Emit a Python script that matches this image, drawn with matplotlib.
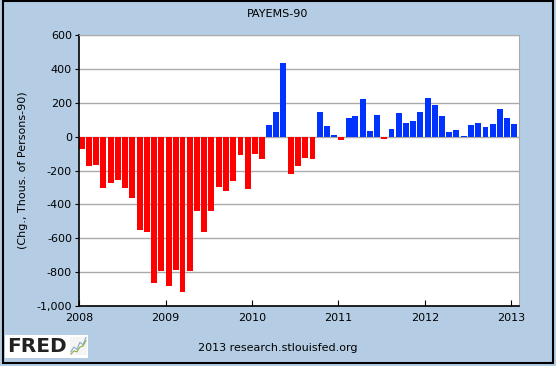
import matplotlib

matplotlib.use("Agg")
import matplotlib.pyplot as plt
import matplotlib.dates as mdates
import matplotlib.ticker as mticker
from matplotlib.patches import Rectangle
import pandas as pd

# monthly change in nonfarm payrolls, thousands of persons
months = pd.date_range("2008-01-01", "2013-01-01", freq="MS")
changes = [
    -73, -173, -167, -303, -274, -256, -303, -362, -552, -561, -865, -794,  # 2008
    -883, -788, -918, -794, -439, -563, -439, -297, -321, -262, -108, -309,  # 2009
    -102, -132, 67, 144, 433, -221, -173, -126, -132, 144, 61, 8,  # 2010
    -20, 108, 120, 221, 32, 126, -14, 43, 138, 79, 91, 144,  # 2011
    227, 185, 120, 26, 37, 3, 67, 79, 55, 73, 162, 108,  # 2012
    73,  # 2013
]
yticks = [-1000, -800, -600, -400, -200, 0, 200, 400, 600]
year_ticks = pd.date_range("2008-01-01", "2013-01-01", freq="YS")

# little "up and to the right" logo icon
icon_a = [1, 2, 1.5, 3, 2.5, 4]
icon_b = [0.5, 1.2, 1.0, 2.0, 2.2, 3.3]

BG = "#B4CDE4"
RED = "#FF0000"
BLUE = "#0033FF"

fig = plt.figure(figsize=(5.56, 3.66), dpi=100, facecolor=BG)
ax = fig.add_axes([0.142, 0.164, 0.791, 0.740])

colors = [RED if v < 0 else BLUE for v in changes]
ax.bar(months, changes, width=25, align="edge", color=colors, zorder=2)

ax.set_xlim(pd.Timestamp("2008-01-01"), pd.Timestamp("2013-02-01"))
ax.set_ylim(-1000, 600)
ax.set_yticks(yticks)
ax.yaxis.set_major_formatter(mticker.FuncFormatter(lambda v, p: f"{v:,.0f}"))
ax.set_xticks(year_ticks)
ax.xaxis.set_major_formatter(mdates.DateFormatter("%Y"))

ax.grid(axis="y", color="#AAAAAA", linewidth=1, zorder=0)
ax.tick_params(axis="y", direction="out", length=3, labelsize=8, pad=2)
ax.tick_params(axis="x", direction="in", length=4, labelsize=8, pad=5)
for side in ["top", "right"]:
    ax.spines[side].set_color("#AAAAAA")
for side in ["left", "bottom"]:
    ax.spines[side].set_color("black")
    ax.spines[side].set_linewidth(1.2)

ax.set_ylabel("(Chg., Thous. of Persons-90)", fontsize=8, labelpad=6)
fig.text(0.5, 0.963, "PAYEMS-90", ha="center", va="center", fontsize=8)
fig.text(0.5, 0.048, "2013 research.stlouisfed.org", ha="center", va="center", fontsize=8)

# FRED logo
fig.patches.append(Rectangle((0.009, 0.022), 0.149, 0.063, transform=fig.transFigure,
                             facecolor="white", edgecolor="none"))
fig.text(0.013, 0.052, "FRED", ha="left", va="center", fontsize=14.5, fontweight="heavy",
         color="#222222")
icon = fig.add_axes([0.126, 0.030, 0.030, 0.050], zorder=5)
icon.plot(icon_a, color="#8AAAD0", linewidth=0.8)
icon.plot(icon_b, color="#88B040", linewidth=0.8)
icon.set_facecolor("#F4F4F4")
icon.set_xticks([])
icon.set_yticks([])
for s in icon.spines.values():
    s.set_visible(False)

# outer border
fig.patches.append(Rectangle((0.005, 0.008), 0.989, 0.988, transform=fig.transFigure,
                             facecolor="none", edgecolor="black", linewidth=1.5))

fig.savefig("out.png", dpi=100, facecolor=BG)
